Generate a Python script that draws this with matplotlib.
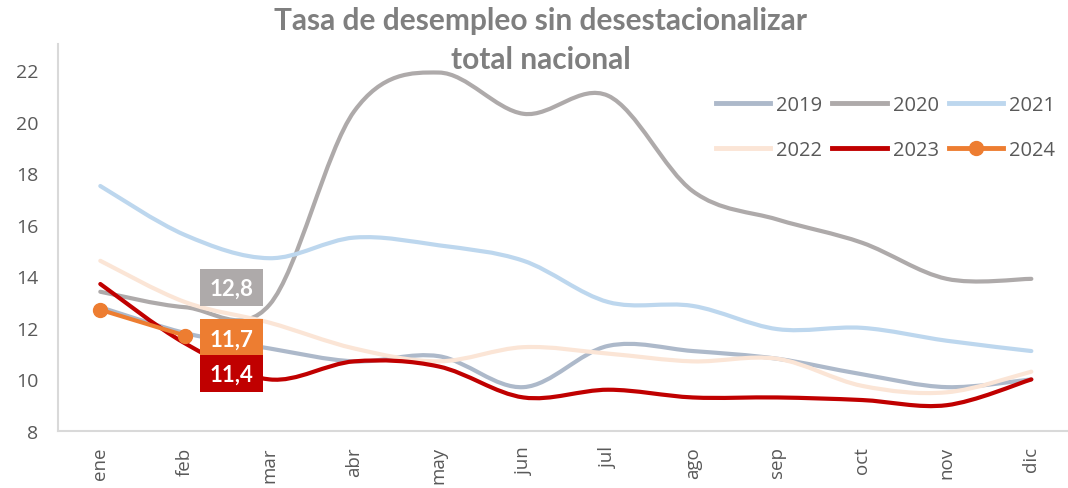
import matplotlib.pyplot as plt
import numpy as np
from matplotlib.lines import Line2D
from matplotlib.offsetbox import AnnotationBbox, DrawingArea
from matplotlib.patches import PathPatch, Rectangle
from matplotlib.path import Path
from matplotlib.text import Text

months = ['ene', 'feb', 'mar', 'abr', 'may', 'jun', 'jul', 'ago', 'sep', 'oct', 'nov', 'dic']

y2019 = [12.8, 11.8, 11.2, 10.7, 10.9, 9.7, 11.3, 11.1, 10.8, 10.2, 9.7, 10.0]
y2020 = [13.4, 12.8, 12.9, 20.4, 21.9, 20.3, 21.0, 17.3, 16.2, 15.3, 13.9, 13.9]
y2021 = [17.5, 15.6, 14.7, 15.5, 15.2, 14.6, 13.0, 12.85, 11.95, 12.0, 11.5, 11.1]
y2022 = [14.6, 13.0, 12.2, 11.2, 10.7, 11.25, 11.0, 10.7, 10.8, 9.75, 9.5, 10.3]
y2023 = [13.7, 11.4, 10.0, 10.7, 10.5, 9.3, 9.6, 9.3, 9.3, 9.2, 9.0, 10.0]
y2024 = [12.7, 11.7]

series = {
    '2019': (y2019, '#ADB9CA'),
    '2020': (y2020, '#AEAAAA'),
    '2021': (y2021, '#BDD7EE'),
    '2022': (y2022, '#FBE5D6'),
    '2023': (y2023, '#C00000'),
}

# labelled february values: (series, colour, vertical offset in pixels)
feb_labels = [('2020', '#AEAAAA', 20), ('2024', '#ED7D31', -2), ('2023', '#C00000', -30)]

TICK_COLOR = '#595959'
FONT = ['Open Sans', 'DejaVu Sans']
BOLD_FONT = ['Lato', 'DejaVu Sans']


def smooth_path(xs, ys):
    # excel-like smoothed line: bezier segments through the data points
    pts = np.column_stack([xs, ys]).astype(float)
    n = len(pts)
    verts = [pts[0]]
    codes = [Path.MOVETO]
    for i in range(n - 1):
        p0 = pts[i - 1] if i > 0 else pts[i]
        p1, p2 = pts[i], pts[i + 1]
        p3 = pts[i + 2] if i + 2 < n else pts[i + 1]
        verts += [p1 + (p2 - p0) / 6, p2 - (p3 - p1) / 6, p2]
        codes += [Path.CURVE4] * 3
    return Path(verts, codes)


def value_box(text, color, w=45.4, h=26.6):
    da = DrawingArea(w, h, 0, 0)
    da.add_artist(Rectangle((0, 0), w, h, fc=color, ec='none'))
    da.add_artist(Text(w / 2, h / 2 - 1, text, ha='center', va='center', color='white',
                       fontsize=16, fontweight='bold', family=BOLD_FONT))
    return da


fig = plt.figure(figsize=(10.68, 4.89), dpi=100)
ax = fig.add_axes([0.0543, 0.1166, 0.951, 0.791])

x = np.arange(len(months))
handles = {}
for name, (vals, color) in series.items():
    ax.add_patch(PathPatch(smooth_path(x, vals), facecolor='none', edgecolor=color,
                           lw=3, capstyle='round', joinstyle='round'))
    handles[name] = Line2D([], [], color=color, lw=3.5)

ax.plot(x[:len(y2024)], y2024, color='#ED7D31', lw=3, marker='o', ms=10,
        solid_capstyle='round')
handles['2024'] = Line2D([], [], color='#ED7D31', lw=3.5, marker='o', ms=10)

all_vals = {k: v[0] for k, v in series.items()}
all_vals['2024'] = y2024
for name, color, dy in feb_labels:
    val = all_vals[name][1]
    ab = AnnotationBbox(value_box(f'{val:.1f}'.replace('.', ','), color), (1, val),
                        xybox=(47, dy), xycoords='data', boxcoords='offset pixels',
                        frameon=False, pad=0, zorder=5)
    ax.add_artist(ab)

ax.set_xlim(-0.5, 11.5)
ax.set_ylim(8, 23)
ax.set_yticks(range(8, 23, 2))
ax.set_xticks(x)
ax.set_xticklabels(months, rotation=90, family=FONT)
ax.tick_params(axis='both', length=0, colors=TICK_COLOR, labelsize=14)
ax.tick_params(axis='x', labelsize=13.5, pad=11)
ax.tick_params(axis='y', pad=14)
for lbl in ax.get_yticklabels():
    lbl.set_family(FONT)

for side in ['top', 'right']:
    ax.spines[side].set_visible(False)
for side in ['left', 'bottom']:
    ax.spines[side].set_color('#D9D9D9')
    ax.spines[side].set_linewidth(1.5)

order = ['2019', '2022', '2020', '2023', '2021', '2024']
leg = ax.legend([handles[k] for k in order], order, ncol=3, loc='upper right',
                bbox_to_anchor=(1.0, 0.915), frameon=False, handlelength=2.7,
                handletextpad=0.3, columnspacing=0.5, labelspacing=1.25,
                prop={'family': FONT, 'size': 14.5})
for t in leg.get_texts():
    t.set_color(TICK_COLOR)

fig.text(0.506, 0.985, 'Tasa de desempleo sin desestacionalizar\ntotal nacional',
         ha='center', va='top', fontsize=21.5, fontweight='bold', color='#7F7F7F',
         family=BOLD_FONT, linespacing=1.45)

fig.savefig('out.png', dpi=100)
